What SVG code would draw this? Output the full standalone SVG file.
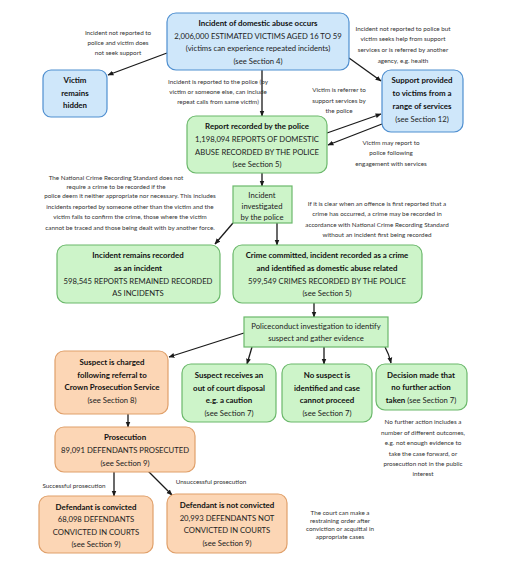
<svg xmlns="http://www.w3.org/2000/svg" width="518" height="581" viewBox="0 0 518 581">
<defs>
<marker id="ah" viewBox="0 0 10 10" refX="9" refY="5" markerWidth="6" markerHeight="6" orient="auto" markerUnits="userSpaceOnUse"><path d="M0,1 L10,5 L0,9 z" fill="#1a1a1a"/></marker>
<style>
.blue{fill:#cfe7fa;stroke:#4f8fd0;stroke-width:1.2}
.green{fill:#cdf4c9;stroke:#6bb86b;stroke-width:1.2}
.orange{fill:#fcd6b5;stroke:#e0a06a;stroke-width:1.2}
text{font-family:Lato,"Liberation Sans",sans-serif;fill:#222;text-anchor:middle}
.t{font-size:7.7px}
.b{font-size:7.9px;font-weight:bold;fill:#111}
.n{font-size:6.3px;fill:#333}
.c{fill:none;stroke:#1a1a1a;stroke-width:1.3;marker-end:url(#ah)}
</style>
</defs>
<rect width="518" height="581" fill="#fff"/>
<g id="connectors">
<path class="c" d="M167,53 L108,75"/>
<path class="c" d="M262,70 L262,116"/>
<path class="c" d="M349,58 L381,81"/>
<path class="c" d="M327,133 L381,114"/>
<path class="c" d="M382,124 L328,145"/>
<path class="c" d="M262,173 L262,186"/>
<path class="c" d="M233,223 L215,244"/>
<path class="c" d="M277,223 L277,245"/>
<path class="c" d="M314,303 L314,317"/>
<path class="c" d="M244,333 L169,357"/>
<path class="c" d="M252,347 L247,364"/>
<path class="c" d="M324,347 L324,364"/>
<path class="c" d="M385,347 Q389,354 391,363"/>
<path class="c" d="M128,414 L128,427"/>
<path class="c" d="M114,472 L114,496"/>
<path class="c" d="M148,471 L172,495"/>
</g>
<g id="n-top"><rect class="blue" x="167" y="13" width="182" height="57" rx="9"/>
<text class="b" x="258" y="26">Incident of domestic abuse occurs</text>
<text class="t" x="258" y="39">2,006,000 ESTIMATED VICTIMS AGED 16 TO 59</text>
<text class="t" x="258" y="51">(victims can experience repeated incidents)</text>
<text class="t" x="258" y="64">(see Section 4)</text></g>
<g id="n-hidden"><rect class="blue" x="43" y="70" width="64" height="47" rx="8"/>
<text class="b" x="75" y="83">Victim</text><text class="b" x="75" y="96">remains</text><text class="b" x="75" y="108">hidden</text></g>
<g id="n-support"><rect class="blue" x="382" y="70" width="81" height="62" rx="9"/>
<text class="b" x="422" y="83">Support provided</text><text class="b" x="422" y="96">to victims from a</text><text class="b" x="422" y="109">range of services</text><text class="t" x="422" y="122">(see Section 12)</text></g>
<g id="n-report"><rect class="green" x="187" y="116" width="140" height="57" rx="9"/>
<text class="b" x="257" y="129">Report recorded by the police</text>
<text class="t" x="257" y="142">1,198,094 REPORTS OF DOMESTIC</text>
<text class="t" x="257" y="155">ABUSE RECORDED BY THE POLICE</text>
<text class="t" x="257" y="167">(see Section 5)</text></g>
<g id="n-invest"><rect class="green" x="233" y="186" width="59" height="37"/>
<text class="t" x="262" y="198">Incident</text><text class="t" x="262" y="209">investigated</text><text class="t" x="262" y="220">by the police</text></g>
<g id="n-remains"><rect class="green" x="57" y="245" width="163" height="58" rx="9"/>
<text class="b" x="138" y="258">Incident remains recorded</text>
<text class="b" x="138" y="271">as an incident</text>
<text class="t" x="138" y="284">598,545 REPORTS REMAINED RECORDED</text>
<text class="t" x="138" y="296">AS INCIDENTS</text></g>
<g id="n-crime"><rect class="green" x="233" y="245" width="189" height="58" rx="9"/>
<text class="b" x="327" y="258">Crime committed, incident recorded as a crime</text>
<text class="b" x="327" y="271">and identified as domestic abuse related</text>
<text class="t" x="327" y="284">599,549 CRIMES RECORDED BY THE POLICE</text>
<text class="t" x="327" y="296">(see Section 5)</text></g>
<g id="n-police"><rect class="green" x="244" y="317" width="144" height="30"/>
<text class="t" x="316" y="329">Policeconduct investigation to identify</text>
<text class="t" x="316" y="341">suspect and gather evidence</text></g>
<g id="n-charged"><rect class="orange" x="55" y="351" width="113" height="63" rx="9"/>
<text class="b" x="112" y="365">Suspect is charged</text><text class="b" x="112" y="378">following referral to</text><text class="b" x="112" y="390">Crown Prosecution Service</text><text class="t" x="112" y="403">(see Section 8)</text></g>
<g id="n-disposal"><rect class="green" x="182" y="364" width="94" height="58" rx="9"/>
<text class="b" x="229" y="378">Suspect receives an</text><text class="b" x="229" y="391">out of court disposal</text><text class="b" x="229" y="403">e.g. a caution</text><text class="t" x="229" y="416">(see Section 7)</text></g>
<g id="n-nosuspect"><rect class="green" x="282" y="364" width="90" height="58" rx="9"/>
<text class="b" x="327" y="378">No suspect is</text><text class="b" x="327" y="391">identified and case</text><text class="b" x="327" y="403">cannot proceed</text><text class="t" x="327" y="416">(see Section 7)</text></g>
<g id="n-nfa"><rect class="green" x="376" y="364" width="91" height="46" rx="9"/>
<text class="b" x="421" y="378">Decision made that</text><text class="b" x="421" y="390">no further action</text><text class="t" x="421" y="403"><tspan class="b">taken </tspan>(see Section 7)</text></g>
<g id="n-prosecution"><rect class="orange" x="55" y="427" width="140" height="45" rx="9"/>
<text class="b" x="125" y="440">Prosecution</text><text class="t" x="125" y="453">89,091 DEFENDANTS PROSECUTED</text><text class="t" x="125" y="466">(see Section 9)</text></g>
<g id="n-convicted"><rect class="orange" x="39" y="496" width="114" height="57" rx="9"/>
<text class="b" x="96" y="510">Defendant is convicted</text><text class="t" x="96" y="522">68,098 DEFENDANTS</text><text class="t" x="96" y="535">CONVICTED IN COURTS</text><text class="t" x="96" y="547">(see Section 9)</text></g>
<g id="n-notconvicted"><rect class="orange" x="167" y="494" width="120" height="59" rx="9"/>
<text class="b" x="227" y="508">Defendant is not convicted</text><text class="t" x="227" y="521">20,993 DEFENDANTS NOT</text><text class="t" x="227" y="533">CONVICTED IN COURTS</text><text class="t" x="227" y="546">(see Section 9)</text></g>
<g id="labels">
<text class="n" x="118" y="35">Incident not reported to</text><text class="n" x="118" y="45">police and victim does</text><text class="n" x="118" y="55">not seek support</text>
<text class="n" x="218" y="84">Incident is reported to the police (by</text><text class="n" x="218" y="94">victim or someone else, can include</text><text class="n" x="218" y="104">repeat calls from same victim)</text>
<text class="n" x="403" y="31">Incident not reported to police but</text><text class="n" x="403" y="41">victim seeks help from support</text><text class="n" x="403" y="52">services or is referred by another</text><text class="n" x="403" y="63">agency, e.g. health</text>
<text class="n" x="339" y="92">Victim is referrer to</text><text class="n" x="339" y="103">support services by</text><text class="n" x="339" y="113">the police</text>
<text class="n" x="391" y="145">Victim may report to</text><text class="n" x="391" y="155">police following</text><text class="n" x="391" y="166">engagement with services</text>
<text class="n" x="377" y="206">If it is clear when an offence is first reported that a</text><text class="n" x="377" y="216">crime has occurred, a crime may be recorded in</text><text class="n" x="377" y="227">accordance with National Crime Recording Standard</text><text class="n" x="377" y="237">without an incident first being recorded</text>
<text class="n" x="116" y="180">The National Crime Recording Standard does not</text><text class="n" x="116" y="189">require a crime to be recorded if the</text><text class="n" x="130" y="198">police deem it neither appropriate nor necessary. This includes</text><text class="n" x="130" y="209">incidents reported by someone other than the victim and the</text><text class="n" x="130" y="219">victim fails to confirm the crime, those where the victim</text><text class="n" x="130" y="230">cannot be traced and those being dealt with by another force.</text>
<text class="n" x="423" y="424">No further action includes a</text><text class="n" x="423" y="435">number of different outcomes,</text><text class="n" x="423" y="445">e.g. not enough evidence to</text><text class="n" x="423" y="456">take the case forward, or</text><text class="n" x="423" y="466">prosecution not in the public</text><text class="n" x="423" y="476">interest</text>
<text class="n" x="74" y="488">Successful prosecution</text>
<text class="n" x="211" y="484">Unsuccessful prosecution</text>
<text class="n" x="340" y="515">The court can make a</text><text class="n" x="340" y="523">restraining order after</text><text class="n" x="340" y="531">conviction or acquittal in</text><text class="n" x="340" y="539">appropriate cases</text>
</g>
</svg>
